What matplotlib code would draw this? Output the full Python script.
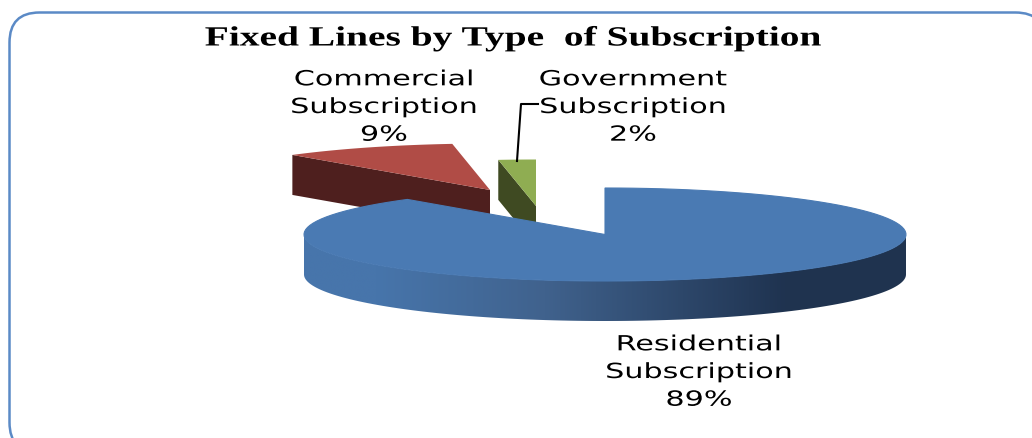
import numpy as np
import matplotlib
matplotlib.use("Agg")
import matplotlib.pyplot as plt
from matplotlib.patches import FancyBboxPatch, Polygon
from matplotlib.patheffects import AbstractPathEffect
from matplotlib.transforms import Affine2D
from matplotlib.colors import LinearSegmentedColormap

# datos
categories = ["Residential\nSubscription", "Commercial\nSubscription", "Government\nSubscription"]
values = [88.6, 9.4, 2.0]
top_colors = ["#4a7ab3", "#b04c46", "#8fad52"]
side_colors = [None, "#4e1f1e", "#3f4a22"]
title = "Fixed Lines by Type  of Subscription"

# geometria del pastel en pixeles
rx, ry, depth = 301, 46.5, 40
centers = [(605, 234.5), (490, 190), (536, 206)]
label_pos = [(699, 372), (384, 107), (633, 107)]


# el original esta estirado a lo ancho, asi que se estira el texto igual
class Stretch(AbstractPathEffect):
    def __init__(self, k):
        super().__init__()
        self.k = k

    def draw_path(self, renderer, gc, tpath, affine, rgbFace=None):
        mid = tpath.get_extents().x0 / 2 + tpath.get_extents().x1 / 2
        t = Affine2D().translate(-mid, 0).scale(self.k, 1).translate(mid, 0)
        renderer.draw_path(gc, tpath, t + affine, rgbFace)


def rim(cx, cy, a0, a1, dy=0):
    # angulos en grados, horario desde las 12
    t = np.radians(np.linspace(a0, a1, 120))
    return np.column_stack([cx + rx * np.sin(t), cy + dy - ry * np.cos(t)])


fig = plt.figure(figsize=(10.32, 4.38), dpi=100)
ax = fig.add_axes([0, 0, 1, 1])
ax.set_xlim(0, 1032)
ax.set_ylim(438, 0)
ax.axis("off")

# marco redondeado, se sale del lienzo por la derecha y por abajo
ax.add_patch(FancyBboxPatch((9.5, 12.5), 1036, 440, boxstyle="round,pad=0,rounding_size=30",
                            fc="white", ec="#5b8ac6", lw=1.8, zorder=1))

# angulos de cada porcion
edges = np.concatenate([[0], np.cumsum(values)]) / sum(values) * 360

# porciones separadas: cara del corte y cara superior
for i in [1, 2]:
    cx, cy = centers[i]
    a0, a1 = edges[i], edges[i + 1]
    outer = rim(cx, cy, a0, a1)
    p = outer[0]
    wall = [p, (cx, cy), (cx, cy + depth), (p[0], p[1] + depth)]
    ax.add_patch(Polygon(wall, closed=True, fc=side_colors[i], ec="none", zorder=2))
    ax.add_patch(Polygon(np.vstack([[(cx, cy)], outer]), closed=True, fc=top_colors[i], ec="none", zorder=2))

# pared frontal de la porcion azul, con degradado
cx, cy = centers[0]
front = np.vstack([rim(cx, cy, 90, 270), rim(cx, cy, 270, 90, dy=depth)])
grad_cmap = LinearSegmentedColormap.from_list(
    "grad", [(0, "#4775ab"), (0.12, "#4775ab"), (0.4, "#40628d"), (0.8, "#1f3350"), (1, "#20344f")]
)
wall_patch = Polygon(front, closed=True, transform=ax.transData, fc="none", ec="none")
ax.add_patch(wall_patch)
img = ax.imshow(
    np.linspace(0, 1, 256).reshape(1, -1), cmap=grad_cmap, aspect="auto",
    extent=(cx - rx, cx + rx, cy + ry + depth, cy - ry), zorder=3,
)
img.set_clip_path(wall_patch)
ax.set_xlim(0, 1032)
ax.set_ylim(438, 0)

# cara superior azul
outer = rim(cx, cy, edges[0], edges[1])
ax.add_patch(Polygon(np.vstack([[(cx, cy)], outer]), closed=True, fc=top_colors[0],
                     ec=top_colors[0], lw=0.8, zorder=4))

# linea guia de Government
ax.plot([538, 521, 517], [104, 104, 161], color="black", lw=1.5, zorder=5)

# etiquetas
for name, v, (lx, ly) in zip(categories, values, label_pos):
    ax.text(lx, ly, f"{name}\n{round(v)}%", ha="center", va="center", fontsize=15, linespacing=1.48,
            color="black", family="DejaVu Sans", zorder=6, path_effects=[Stretch(1.45)])

ax.text(513, 39, title, ha="center", va="center", fontsize=20, fontweight="bold",
        family="Liberation Serif", color="black", zorder=6, path_effects=[Stretch(1.42)])

fig.savefig("out.png", dpi=100)
